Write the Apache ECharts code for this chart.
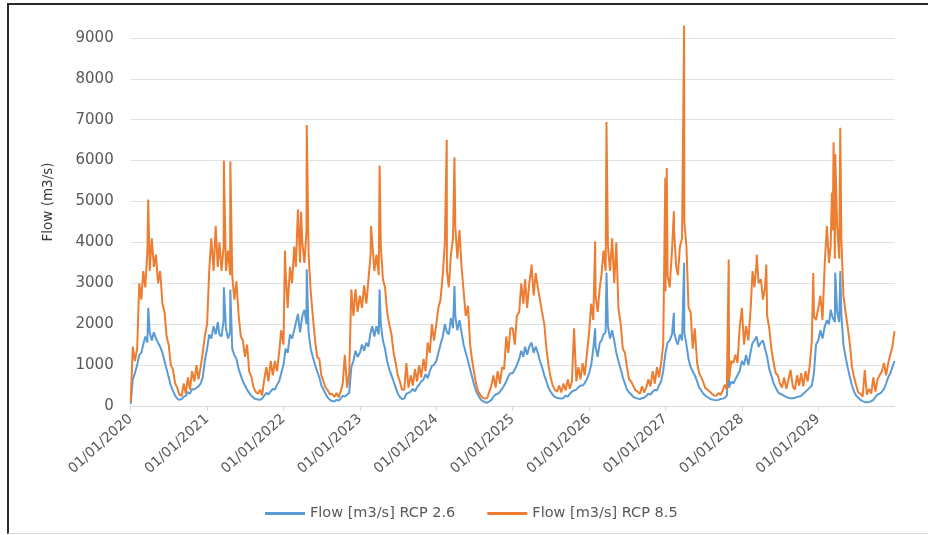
<!DOCTYPE html>
<html><head><meta charset="utf-8">
<script src="https://cdn.jsdelivr.net/npm/echarts@6/dist/echarts.min.js"></script>
<style>
html,body{margin:0;padding:0;background:#fff}
#c{width:928px;height:535px}
#frame{position:absolute;left:7px;top:3px;right:0;bottom:1px;border-top:2px solid #2b2b2b;border-left:2px solid #2b2b2b;border-bottom:1px solid #d9d9d9;pointer-events:none}
</style>
</head><body><div id="c"></div><div id="frame"></div>
<script>
// Sample days: 1st, 11th, 21st of each month (36 values per year)
const sampleDays = [1, 11, 21];
const years = [2020, 2021, 2022, 2023, 2024, 2025, 2026, 2027, 2028, 2029];
const xTickLabels = ['01/01/2020','01/01/2021','01/01/2022','01/01/2023','01/01/2024','01/01/2025','01/01/2026','01/01/2027','01/01/2028','01/01/2029'];
const seriesNames = ['Flow [m3/s] RCP 2.6', 'Flow [m3/s] RCP 8.5'];

// RCP 2.6 (blue)
const rcp26_2020 = [50,650,800, 1000,1250,1300, 1500,1700,1550, 1800,1600,1800, 1650,1550,1450, 1300,1100,900, 700,500,380, 250,180,150, 170,230,250, 340,300,420, 400,450,480, 550,700,1100];
const rcp26_2021 = [1400,1750,1650, 1950,1750,2050, 1750,1700,2100, 1900,1650,1800, 1400,1250,1150, 900,750,600, 500,400,320, 250,200,170, 160,150,180, 250,320,280, 360,420,400, 520,600,800];
const rcp26_2022 = [1000,1400,1300, 1750,1650,1850, 1850,2250,1800, 2200,2350,2000, 1800,1400,1200, 1000,850,700, 500,400,300, 200,150,120, 110,150,130, 180,250,230, 280,320,950, 1100,1350,1200];
const rcp26_2023 = [1300,1500,1350, 1550,1450,1800, 1950,1700,1950, 1750,2000,1600, 1400,1100,900, 750,600,450, 300,220,170, 180,300,320, 350,420,360, 460,520,600, 650,780,680, 850,980,1000];
const rcp26_2024 = [1100,1300,1500, 1700,2000,1800, 1750,2150,1900, 2200,1850,2100, 1800,1500,1300, 1100,900,700, 500,350,250, 160,120,90, 80,110,150, 230,280,300, 350,420,500, 600,720,800];
const rcp26_2025 = [800,900,1000, 1150,1350,1200, 1450,1250,1450, 1550,1300,1450, 1300,1100,950, 750,600,450, 350,280,220, 200,190,180, 200,250,230, 300,350,380, 400,460,500, 500,560,650];
const rcp26_2026 = [800,1000,1400, 1450,1200,1550, 1600,1750,1800, 1950,1650,1850, 1600,1300,1100, 900,700,550, 400,330,280, 220,200,180, 170,190,200, 250,300,280, 350,400,380, 500,600,850];
const rcp26_2027 = [1300,1550,1600, 1750,1800,1600, 1500,1750,1600, 1800,1500,1150, 950,850,750, 600,450,380, 300,250,220, 180,160,150, 140,150,170, 180,200,250, 450,600,550, 650,750,850];
const rcp26_2028 = [1100,1000,1250, 1000,1300,1550, 1600,1700,1450, 1550,1600,1400, 1200,900,750, 550,450,350, 300,280,250, 220,200,190, 190,200,220, 230,250,300, 350,400,450, 500,800,1500];
const rcp26_2029 = [1600,1850,1650, 1950,2100,2000, 2350,2150,2050, 2300,2050,2250, 1500,1200,950, 700,500,350, 250,200,150, 120,100,90, 100,120,150, 220,280,300, 350,420,550, 700,800,950];
const rcp26Peaks = [['2020-03-25',2400],['2021-03-22',2900],['2021-04-22',2850],['2022-04-22',3340],['2023-04-05',2850],['2024-03-28',2930],['2026-01-30',1900],['2026-03-25',3260],['2027-02-10',2280],['2027-03-31',3500],['2027-10-30',980],['2029-03-23',3260],['2029-04-16',3300],['2029-12-31',1100]];

// RCP 8.5 (orange)
const rcp85_2020 = [100,1450,1100, 1400,3000,2600, 3300,2900,3800, 3300,4100,3400, 3700,3000,3300, 2500,2300,1700, 1500,1000,900, 550,450,280, 250,550,300, 700,400,850, 600,1000,650, 950,1300,1700];
const rcp85_2021 = [2000,3300,4100, 3300,4400,3400, 4000,3300,3900, 3300,3800,3200, 3200,2600,3050, 2200,1700,1600, 1200,1500,850, 700,450,350, 300,400,260, 650,950,600, 1100,750,1100, 850,1300,1850];
const rcp85_2022 = [1500,3300,2400, 3400,3000,3900, 3400,4800,3500, 4000,3500,4300, 3700,2800,2200, 1600,1200,1150, 750,600,450, 380,280,300, 220,320,210, 350,550,1250, 450,800,2850, 2200,2850,2300];
const rcp85_2023 = [2700,2400,2950, 2500,3100,3700, 4000,3300,3700, 3200,3900,3100, 2900,2300,2000, 1750,1300,1050, 750,600,400, 400,1050,450, 750,500,900, 600,1000,700, 1150,850,1550, 1300,2000,1600];
const rcp85_2024 = [2000,2400,2600, 3200,4000,3300, 2900,3700,4100, 4400,3600,4300, 3400,2800,2200, 2450,1500,1100, 800,500,350, 250,200,180, 200,350,500, 750,450,850, 550,950,900, 1700,1300,1900];
const rcp85_2025 = [1900,1500,2200, 2300,3000,2500, 3100,2400,3000, 3400,2700,3250, 2900,2600,2300, 2000,1400,1000, 700,500,400, 350,500,330, 550,380,650, 420,600,1900, 600,950,650, 1050,750,1250];
const rcp85_2026 = [1800,2500,2100, 2700,2300,2900, 3200,3800,3300, 3900,3300,4100, 3000,4000,2400, 2000,1400,1300, 950,650,600, 480,380,350, 300,480,330, 450,650,480, 850,550,950, 700,1050,1500];
const rcp85_2027 = [2800,3200,2900, 3800,4300,3400, 3200,3900,4100, 4500,3900,2400, 2300,1400,1900, 1050,800,700, 570,430,400, 350,300,260, 250,320,270, 380,520,400, 650,1100,1050, 1250,1050,1900];
const rcp85_2028 = [2400,1500,1950, 1600,2300,3300, 2900,3500,3000, 3100,2600,2900, 2200,1900,1400, 1050,800,750, 550,450,700, 420,650,880, 480,400,750, 500,800,480, 850,600,1000, 1600,2200,2100];
const rcp85_2029 = [2400,2700,2100, 3500,4400,3500, 3900,4300,3600, 4400,3600,4100, 2700,2300,1950, 1500,950,700, 500,330,300, 230,880,280, 420,300,700, 350,650,750, 850,1050,750, 1050,1250,1450];
const rcp85Peaks = [['2020-03-25',5050],['2021-03-22',6000],['2021-04-22',5980],['2022-01-08',3800],['2022-03-26',4750],['2022-04-22',6870],['2023-02-23',4400],['2023-04-05',5880],['2024-02-20',6510],['2024-03-28',6080],['2025-04-01',3460],['2026-01-30',4030],['2026-03-25',6940],['2026-12-31',5580],['2027-01-07',5820],['2027-02-10',4760],['2027-03-31',9300],['2027-10-30',3580],['2028-03-12',3700],['2028-04-27',3460],['2028-12-08',3250],['2029-03-07',5220],['2029-03-15',6450],['2029-03-23',6160],['2029-04-16',6800],['2029-12-31',1830]];

const rcp26Years = [rcp26_2020, rcp26_2021, rcp26_2022, rcp26_2023, rcp26_2024, rcp26_2025, rcp26_2026, rcp26_2027, rcp26_2028, rcp26_2029];
const rcp85Years = [rcp85_2020, rcp85_2021, rcp85_2022, rcp85_2023, rcp85_2024, rcp85_2025, rcp85_2026, rcp85_2027, rcp85_2028, rcp85_2029];

// Convert a calendar date to a decimal year (the axis unit)
function decYear(y, m, d) {
  const s = Date.UTC(y, 0, 1), e = Date.UTC(y + 1, 0, 1);
  return y + (Date.UTC(y, m, d) - s) / (e - s);
}
function build(yearArrays, peaks) {
  const pts = [];
  years.forEach((y, yi) => {
    yearArrays[yi].forEach((v, i) => {
      const m = Math.floor(i / 3), d = sampleDays[i % 3];
      pts.push([decYear(y, m, d), v]);
    });
  });
  peaks.forEach(([ds, v]) => {
    const [y, m, d] = ds.split('-').map(Number);
    pts.push([decYear(y, m - 1, d), v]);
  });
  pts.sort((a, b) => a[0] - b[0]);
  return pts;
}

const font = 'DejaVu Sans';
const chart = echarts.init(document.getElementById('c'), null, {renderer: 'canvas'});
chart.setOption({
  animation: false,
  grid: {left: 130.7, right: 33.3, top: 17.4, bottom: 129},
  xAxis: {
    type: 'value', min: 2020, max: 2030, interval: 1,
    axisLine: {show: true, lineStyle: {color: '#d9d9d9', width: 1}},
    axisTick: {show: true, length: 5, lineStyle: {color: '#d9d9d9'}},
    splitLine: {show: false},
    axisLabel: {
      rotate: 42, margin: 11, color: '#595959', fontFamily: font, fontSize: 14,
      showMaxLabel: false,
      formatter: v => { const i = years.indexOf(v); return i >= 0 ? xTickLabels[i] : ''; }
    }
  },
  yAxis: {
    type: 'value', min: 0, max: 9500, interval: 1000,
    axisLine: {show: false}, axisTick: {show: false},
    splitLine: {show: true, showMaxLine: false, lineStyle: {color: '#dfe2e6', width: 1}},
    axisLabel: {color: '#595959', fontFamily: font, fontSize: 15, margin: 17, showMaxLabel: false,
      formatter: v => String(v)}
  },
  legend: {
    data: seriesNames, left: 260, top: 501,
    icon: 'rect', itemWidth: 40, itemHeight: 3, itemGap: 32,
    textStyle: {color: '#595959', fontFamily: font, fontSize: 14.5}
  },
  graphic: [{
    type: 'text', x: 48, y: 202, rotation: Math.PI / 2,
    style: {text: 'Flow (m3/s)', fill: '#3a3a3a', font: '13.5px "DejaVu Sans"',
      align: 'center', verticalAlign: 'middle', textAlign: 'center', textVerticalAlign: 'middle'}
  }],
  series: [
    {name: seriesNames[0], type: 'line', data: build(rcp26Years, rcp26Peaks), symbol: 'none', showSymbol: false,
     color: '#5B9BD5', lineStyle: {color: '#5B9BD5', width: 2}, z: 2},
    {name: seriesNames[1], type: 'line', data: build(rcp85Years, rcp85Peaks), symbol: 'none', showSymbol: false,
     color: '#ED7D31', lineStyle: {color: '#ED7D31', width: 2}, z: 3}
  ]
});
</script></body></html>
